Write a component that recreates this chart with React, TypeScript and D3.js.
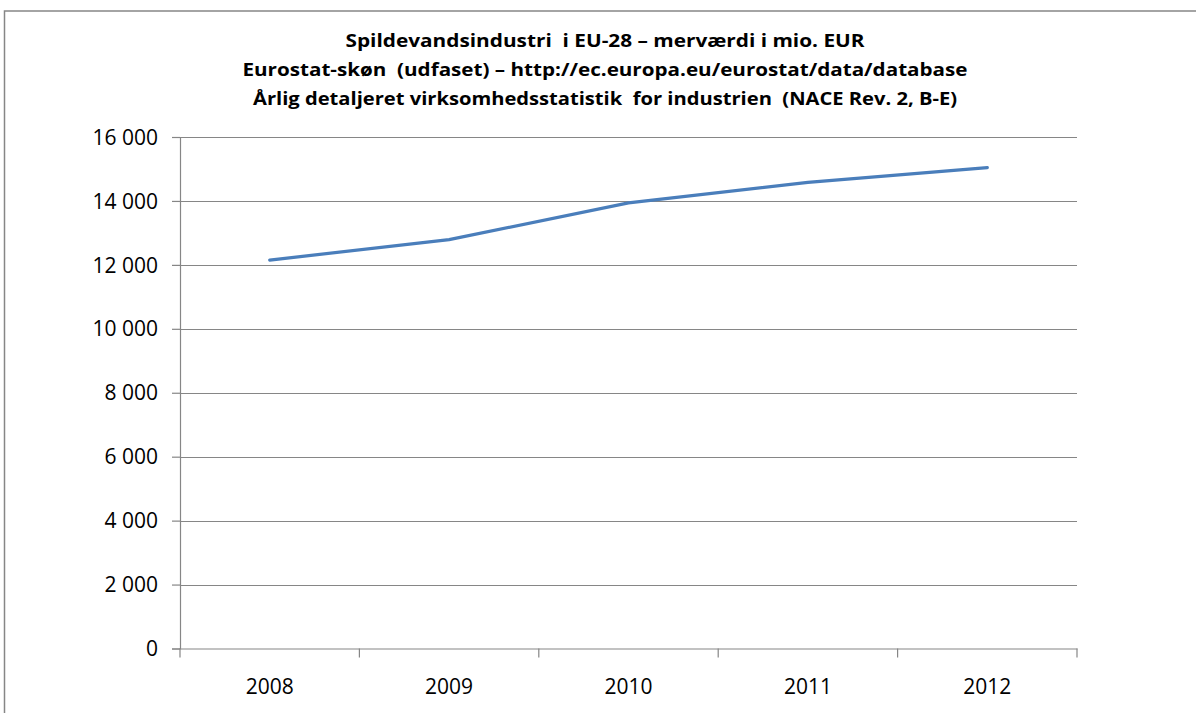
import React, { useEffect, useRef } from 'react';
import * as d3 from 'd3';

// Spildevandsindustri i EU-28, merværdi i mio. EUR
const years = ['2008', '2009', '2010', '2011', '2012'];
const values = [12150, 12790, 13940, 14580, 15040];
const yTicks = [0, 2000, 4000, 6000, 8000, 10000, 12000, 14000, 16000];
const titleLines = [
  'Spildevandsindustri  i EU-28 – merværdi i mio. EUR',
  'Eurostat-skøn  (udfaset) – http://ec.europa.eu/eurostat/data/database',
  'Årlig detaljeret virksomhedsstatistik  for industrien  (NACE Rev. 2, B-E)',
];
const titleWidths = [519, 725, 704];

const W = 1196;
const H = 713;
const plot = { left: 180, right: 1077, top: 137, bottom: 648.5 };
const font = '"Open Sans", "Noto Sans", sans-serif';

export default function App() {
  const ref = useRef<SVGSVGElement>(null);

  useEffect(() => {
    document.body.style.margin = '0';
    const svg = d3.select(ref.current);
    svg.selectAll('*').remove();

    // outer chart border (cut off at right/bottom)
    svg.append('rect')
      .attr('x', 4.5).attr('y', 11)
      .attr('width', W + 20).attr('height', H + 20)
      .attr('fill', 'white')
      .attr('stroke', '#868686').attr('stroke-width', 1.5);

    const x = d3.scaleBand().domain(years).range([plot.left, plot.right]).paddingInner(0).paddingOuter(0);
    const y = d3.scaleLinear().domain([0, 16000]).range([plot.bottom, plot.top]);

    // title
    const title = svg.append('g');
    titleLines.forEach((t, i) => {
      title.append('text')
        .attr('x', 605).attr('y', 47 + i * 29)
        .attr('text-anchor', 'middle')
        .attr('font-family', font).attr('font-weight', 'bold')
        .attr('font-size', 18.5)
        .attr('textLength', titleWidths[i]).attr('lengthAdjust', 'spacingAndGlyphs')
        .style('white-space', 'pre')
        .attr('fill', '#000')
        .text(t);
    });

    // gridlines
    svg.append('g').selectAll('line')
      .data(yTicks.filter(d => d > 0))
      .enter().append('line')
      .attr('x1', plot.left).attr('x2', plot.right)
      .attr('y1', d => Math.round(y(d)) + 0.5).attr('y2', d => Math.round(y(d)) + 0.5)
      .attr('stroke', '#868686').attr('stroke-width', 1.2);

    // y axis
    const yAxis = svg.append('g')
      .attr('transform', `translate(${plot.left},0)`)
      .call(d3.axisLeft(y).tickValues(yTicks).tickSize(8).tickPadding(14)
        .tickFormat(d => d3.format(',')(d as number).replace(/,/g, ' ')));
    yAxis.select('.domain').attr('stroke', '#868686').attr('stroke-width', 1.2);
    yAxis.selectAll('.tick line').attr('stroke', '#868686').attr('stroke-width', 1.2);
    yAxis.selectAll('.tick text')
      .attr('font-family', font).attr('font-size', 21).attr('fill', '#000')
      .attr('dy', '0.34em');

    // x axis
    const xAxis = svg.append('g')
      .attr('transform', `translate(0,${plot.bottom})`)
      .call(d3.axisBottom(x).tickSize(0).tickPadding(31));
    xAxis.select('.domain').attr('stroke', '#868686').attr('stroke-width', 1.2);
    xAxis.selectAll('.tick text')
      .attr('font-family', font).attr('font-size', 21).attr('fill', '#000');
    const bounds = years.map(d => x(d) as number).concat([plot.right]);
    xAxis.selectAll('.bound')
      .data(bounds).enter().append('line')
      .attr('x1', d => d).attr('x2', d => d)
      .attr('y1', 0).attr('y2', 9)
      .attr('stroke', '#868686').attr('stroke-width', 1.2);

    // series line
    const line = d3.line<number>()
      .x((_, i) => (x(years[i]) as number) + x.bandwidth() / 2)
      .y(d => y(d));
    svg.append('path')
      .datum(values)
      .attr('d', line)
      .attr('fill', 'none')
      .attr('stroke', '#4a7ebb')
      .attr('stroke-width', 3.2)
      .attr('stroke-linecap', 'round')
      .attr('stroke-linejoin', 'round');
  }, []);

  return (
    <div style={{ position: 'absolute', left: 0, top: 0 }}>
      <svg ref={ref} width={W} height={H} style={{ display: 'block' }} />
    </div>
  );
}
